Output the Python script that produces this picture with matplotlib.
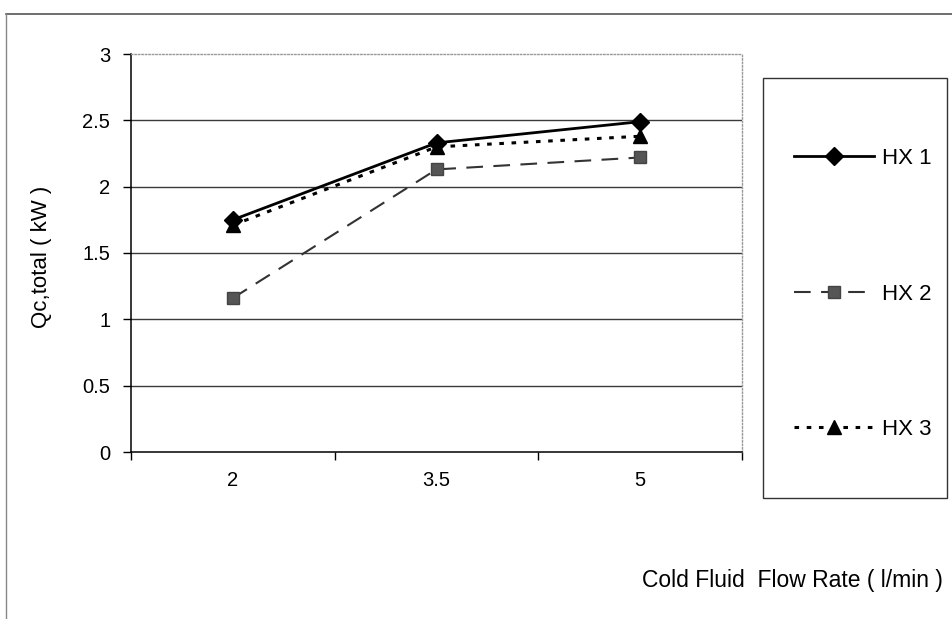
import matplotlib
matplotlib.use("Agg")
import matplotlib.pyplot as plt
from matplotlib.patches import Rectangle
from matplotlib.lines import Line2D

plt.rcParams['font.family'] = ['Liberation Sans', 'DejaVu Sans']

# Cold fluid flow rates (categories) and total heat transfer for each exchanger
flow_rates = ["2", "3.5", "5"]
hx1 = [1.75, 2.33, 2.49]
hx2 = [1.16, 2.13, 2.22]
hx3 = [1.71, 2.30, 2.38]
y_ticks = [0, 0.5, 1, 1.5, 2, 2.5, 3]
y_tick_labels = ["0", "0.5", "1", "1.5", "2", "2.5", "3"]

W, H = 953, 619
fig = plt.figure(figsize=(W / 100, H / 100), dpi=100)
fig.patch.set_facecolor("white")

ax = fig.add_axes([131 / W, 1 - 452 / H, 611 / W, 398 / H])
x = list(range(len(flow_rates)))

ax.plot(x, hx1, color="black", lw=2.0, ls="-", marker="D", ms=9,
        mfc="black", mec="black", label="HX 1", zorder=5)
ax.plot(x, hx2, color="#333333", lw=1.5, ls=(0, (8, 5)), marker="s", ms=9,
        mfc="#555555", mec="#444444", label="HX 2", zorder=4)
ax.plot(x, hx3, color="black", lw=2.2, ls=(0, (1.5, 2.5)), marker="^", ms=10,
        mfc="black", mec="black", label="HX 3", zorder=6)

ax.set_xlim(-0.5, 2.5)
ax.set_ylim(0, 3)
ax.set_yticks(y_ticks)
ax.set_yticklabels(y_tick_labels)
ax.set_xticks(x)
ax.set_xticklabels(flow_rates)
ax.set_xticks([-0.5, 0.5, 1.5, 2.5], minor=True)

ax.tick_params(axis="y", direction="out", length=6, width=1, pad=9,
               labelsize=14.5, color="black")
ax.tick_params(axis="x", which="major", length=0, pad=14, labelsize=14.5)
ax.tick_params(axis="x", which="minor", direction="out", length=6, width=1)

for yv in y_ticks[1:-1]:
    ax.axhline(yv, color="#3a3a3a", lw=1.0, zorder=1)

ax.spines["left"].set_color("black")
ax.spines["bottom"].set_color("black")
ax.spines["left"].set_linewidth(1.1)
ax.spines["bottom"].set_linewidth(1.1)
for s in ("top", "right"):
    ax.spines[s].set_color("#999999")
    ax.spines[s].set_linestyle((0, (1, 1.5)))
    ax.spines[s].set_linewidth(1.0)

ax.set_ylabel("Qc,total ( kW )", fontsize=16)
ax.yaxis.set_label_coords(-0.13, 0.49)

fig.text(943 / W, 1 - 580 / H, "Cold Fluid  Flow Rate ( l/min )",
         ha="right", va="center", fontsize=16.5)

# Legend frame and entries
fig.patches.append(Rectangle((763 / W, 1 - 498 / H), 184 / W, 420 / H,
                             transform=fig.transFigure, fill=False,
                             edgecolor="#333333", lw=1.0))
fig.legend(loc="center", bbox_to_anchor=(863 / W, 1 - 294 / H),
           frameon=False, fontsize=16, handlelength=3.6, handletextpad=0.35,
           labelspacing=5.15)

# Outer chart border
fig.add_artist(Line2D([6 / W, 1], [1 - 14 / H, 1 - 14 / H],
                      transform=fig.transFigure, color="#555555", lw=1.2))
fig.add_artist(Line2D([6 / W, 6 / W], [0, 1 - 14 / H],
                      transform=fig.transFigure, color="#888888", lw=1.0))

fig.savefig("out.png", dpi=100, facecolor="white")
